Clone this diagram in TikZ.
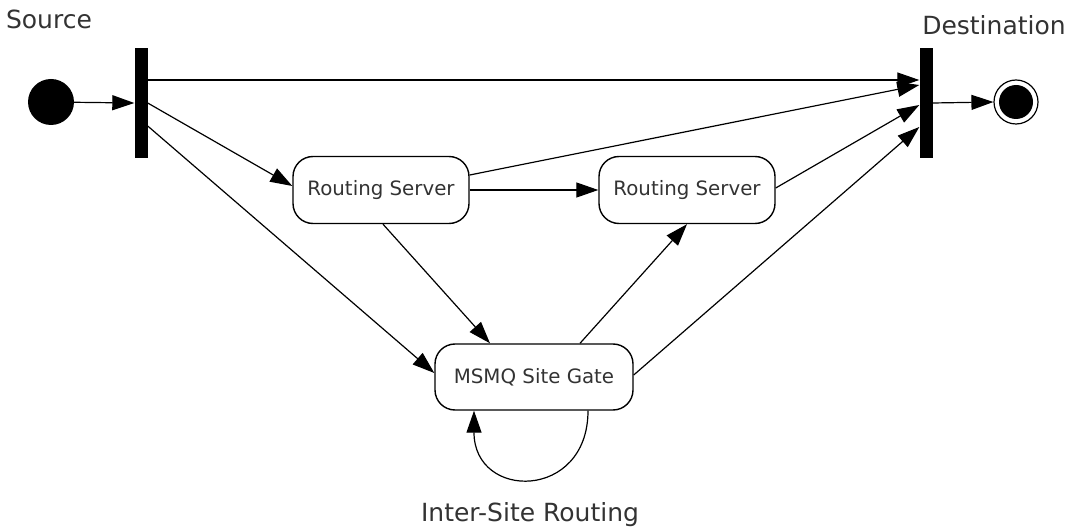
\documentclass[tikz,border=0pt]{standalone}
\usepackage{fontspec}
\setmainfont{DejaVu Sans}
\usetikzlibrary{arrows.meta, positioning, calc}

\tikzset{
	flow/.style={draw, line width=1.2pt, -{Triangle[length=22pt,width=15pt]}},
	statebox/.style={draw, line width=1.4pt, rounded corners=20pt, minimum width=176pt, minimum height=67pt, inner sep=0pt, font=\fontsize{19.8}{22}\selectfont, text=black!80},
	syncbar/.style={fill=black, minimum width=13pt, minimum height=110pt, inner sep=0pt},
	caption/.style={font=\fontsize{25}{28}\selectfont, text=black!80}
}

\begin{document}
\begin{tikzpicture}[x=1pt, y=-1pt]
		\useasboundingbox (0,0) rectangle (1065,529);

		% Start and end
		\node[circle, fill=black, minimum size=46pt, inner sep=0pt] (start) at (51,102) {};
		\node[circle, draw, line width=1.2pt, minimum size=44pt, inner sep=0pt] (end) at (1016,102) {};
		\node[circle, fill=black, minimum size=34pt, inner sep=0pt] (endin) at (end) {};

		% Bars
		\node[syncbar] (lbar) at (141,103) {};
		\node[syncbar] (rbar) at (926,103) {};

		\node[caption] (srclbl) at (49,19) {Source};
		\node[caption] (destlbl) at (994,25) {Destination};

		% States
		\node[statebox] (rs1) at (381,190) {Routing Server};
		\node[statebox] (rs2) at (687,190) {Routing Server};
		\node[statebox, minimum width=198pt, minimum height=66pt] (gate) at (534,377) {MSMQ Site Gate};

		\node[caption] (looplbl) at (530,515) {Inter-Site Routing};

		% Transitions
		\draw[flow] (start) -- (lbar.west);
		\draw[flow] ([yshift=23pt]lbar.east) -- ([yshift=23pt]rbar.west);
		\draw[flow] (lbar.east) -- ([yshift=4pt]rs1.west);
		\draw[flow] ([yshift=-23pt]lbar.east) -- ([yshift=4pt]gate.west);
		\draw[flow] (rs1.east) -- (rs2.west);
		\draw[flow] ([yshift=15pt]rs1.east) -- ([yshift=18pt]rbar.west);
		\draw[flow] ([yshift=2pt]rs2.east) -- ([yshift=-2pt]rbar.west);
		\draw[flow] ([yshift=2pt]gate.east) -- ([yshift=-24pt]rbar.west);
		\draw[flow] ([xshift=2pt]rs1.south) -- ([xshift=-44pt]gate.north);
		\draw[flow] ([xshift=46pt]gate.north) -- (rs2.south);
		\draw[flow] ([xshift=54pt]gate.south) .. controls +(0,90) and +(0,90) .. ([xshift=-60pt]gate.south);
		\draw[flow] (rbar.east) -- (end.west);
	\end{tikzpicture}
\end{document}
